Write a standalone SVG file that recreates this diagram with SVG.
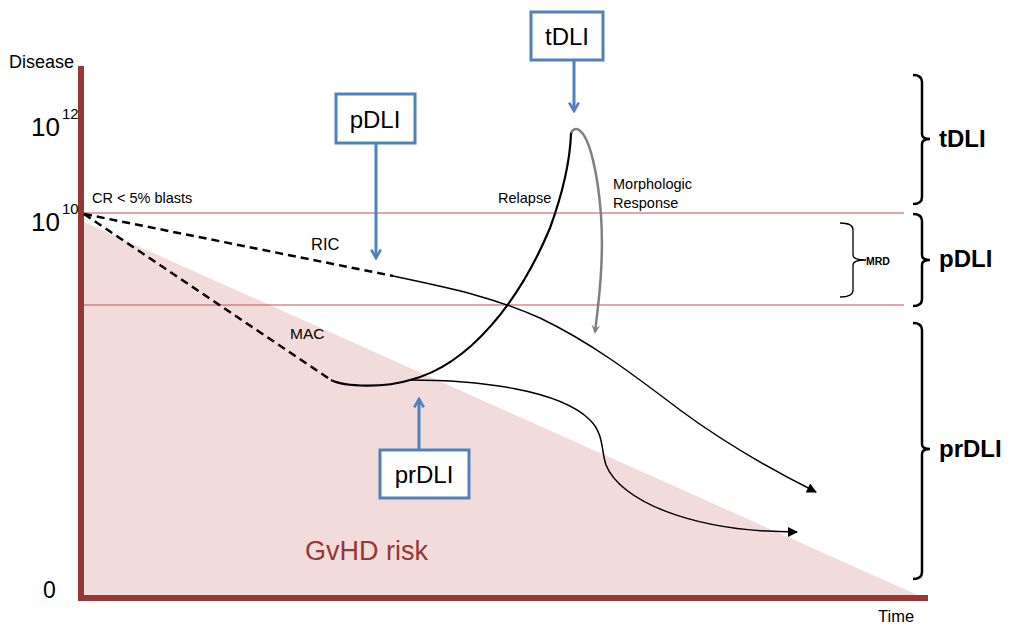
<svg xmlns="http://www.w3.org/2000/svg" width="1010" height="626" viewBox="0 0 1010 626">
<style>
text{font-family:"Liberation Sans",Arial,sans-serif;fill:#000}
.box{fill:#fff;stroke:#4f81bd;stroke-width:3}
.barrow{stroke:#4f81bd;stroke-width:3;fill:none}
.lvl{stroke:#c0504d;stroke-width:1}
.dash{stroke:#000;stroke-width:2.5;stroke-dasharray:8,5;fill:none}
.curve{stroke:#000;fill:none}
.brk{stroke:#000;stroke-width:2.5;fill:none}
.bl{font-weight:bold;font-size:24px}
.sm{font-size:14.5px}
</style>
<defs>
<marker id="ah" viewBox="0 0 10 10" refX="9" refY="5" markerWidth="11" markerHeight="10" markerUnits="userSpaceOnUse" orient="auto"><path d="M0,0 L10,5 L0,10 z" fill="#000"/></marker>
<marker id="ahg" viewBox="0 0 10 10" refX="8" refY="5" markerWidth="9" markerHeight="9" markerUnits="userSpaceOnUse" orient="auto"><path d="M0,0 L10,5 L0,10 L4,5 z" fill="#808080"/></marker>
<marker id="ahb" viewBox="0 0 10 10" refX="8" refY="5" markerWidth="12" markerHeight="12" markerUnits="userSpaceOnUse" orient="auto"><path d="M1,1 L8,5 L1,9" fill="none" stroke="#4f81bd" stroke-width="2.2"/></marker>
</defs>
<rect width="1010" height="626" fill="#fff"/>
<g id="gvhd-area">
<polygon points="84,222 84,597 922,597" fill="#f2dcdb"/>
<text x="305" y="560" style="font-size:27px;fill:#953735">GvHD risk</text>
</g>
<g id="levels">
<line class="lvl" x1="84" y1="213" x2="904" y2="213"/>
<line class="lvl" x1="84" y1="305" x2="904" y2="305"/>
</g>
<g id="axes">
<line x1="81" y1="66" x2="81" y2="600" stroke="#953735" stroke-width="6"/>
<line x1="78" y1="598" x2="928" y2="598" stroke="#953735" stroke-width="6"/>
<text x="9" y="68" style="font-size:18px">Disease</text>
<text x="31" y="136" style="font-size:26px">10</text><text x="62" y="119" style="font-size:15px">12</text>
<text x="31" y="231" style="font-size:26px">10</text><text x="62" y="214" style="font-size:15px">10</text>
<text x="43" y="598" style="font-size:23px">0</text>
<text x="878" y="622" style="font-size:16.5px">Time</text>
<text x="92" y="203" style="font-size:14.5px">CR &lt; 5% blasts</text>
</g>
<g id="connectors">
<path class="dash" d="M84,214 L393,276"/>
<path class="dash" d="M84,214 L331,380"/>
<path class="curve" stroke-width="1.5" d="M393,276 C450,288 490,296 540,318 C590,342 630,372 680,410 C730,447 780,474 816,492" marker-end="url(#ah)"/>
<path class="curve" stroke-width="2.2" d="M331,380 C345,387 385,388 410,380 C470,365 520,300 550,228 C562,195 570,160 571,134 L572,131"/>
<path class="curve" stroke-width="1.5" d="M410,380 C480,380 560,390 590,420 C604,434 601,450 606,465 C620,500 690,532 797,532" marker-end="url(#ah)"/>
<path d="M571,133 C573,129 576,128 579,130 C590,137 598,175 601,215 C604,260 599,300 595,332" stroke="#808080" stroke-width="2.5" fill="none" marker-end="url(#ahg)"/>
<text x="498" y="203" class="sm">Relapse</text>
<text x="613" y="189" class="sm">Morphologic</text>
<text x="613" y="208" class="sm">Response</text>
<text x="311" y="250" style="font-size:16.5px">RIC</text>
<text x="290" y="339" style="font-size:15.5px">MAC</text>
<line class="barrow" x1="574" y1="61" x2="574" y2="111" marker-end="url(#ahb)"/>
<line class="barrow" x1="376" y1="144" x2="376" y2="258" marker-end="url(#ahb)"/>
<line class="barrow" x1="419" y1="449" x2="419" y2="399" marker-end="url(#ahb)"/>
</g>
<g id="tDLI-box">
<rect class="box" x="531" y="12" width="72" height="48"/>
<text x="567" y="45" text-anchor="middle" style="font-size:24px">tDLI</text>
</g>
<g id="pDLI-box">
<rect class="box" x="336" y="94" width="79" height="49"/>
<text x="375" y="128" text-anchor="middle" style="font-size:24px">pDLI</text>
</g>
<g id="prDLI-box">
<rect class="box" x="380" y="450" width="89" height="48"/>
<text x="424" y="483" text-anchor="middle" style="font-size:24px">prDLI</text>
</g>
<g id="brackets">
<path class="brk" d="M913,75 Q922,75 922,82 L922,134 Q922,139 930,139 Q922,139 922,144 L922,197 Q922,204 913,204"/>
<text class="bl" x="939" y="147">tDLI</text>
<path class="brk" d="M913,214 Q922,214 922,221 L922,255 Q922,260 930,260 Q922,260 922,265 L922,299 Q922,306 913,306"/>
<text class="bl" x="939" y="267">pDLI</text>
<path d="M840,223 Q853,223 853,230 L853,255 Q853,260 866,260 Q853,260 853,265 L853,290 Q853,297 840,297" stroke="#000" stroke-width="1.3" fill="none"/>
<text x="866" y="265" style="font-size:10.5px;font-weight:bold">MRD</text>
<path class="brk" d="M913,323 Q922,323 922,330 L922,444 Q922,449 930,449 Q922,449 922,454 L922,572 Q922,579 913,579"/>
<text class="bl" x="939" y="457">prDLI</text>
</g>
</svg>
